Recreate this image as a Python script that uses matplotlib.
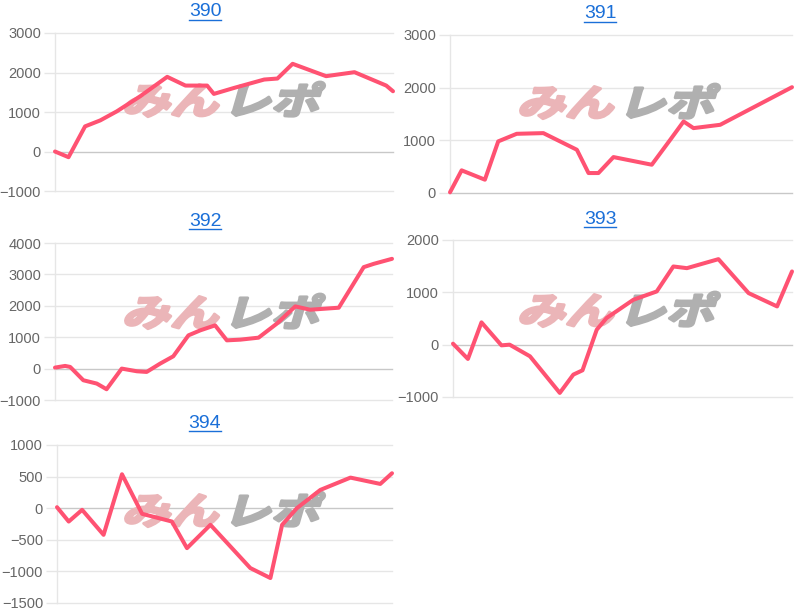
import matplotlib
matplotlib.use("Agg")
from matplotlib import pyplot as plt
from matplotlib.textpath import TextPath
from matplotlib.patches import PathPatch
from matplotlib.font_manager import FontProperties
from matplotlib.transforms import Affine2D
from matplotlib.lines import Line2D

plt.rcParams['font.family'] = ['Liberation Sans', 'DejaVu Sans']

# machine numbers (panel titles)
titles = ["390", "391", "392", "393", "394"]

# x = position along the period in percent, y = balance
x390 = [0, 4.0, 8.9, 13.4, 18.3, 25.2, 33.2, 38.6, 45.0, 47.0, 53.0, 61.9, 65.8, 70.3, 80.2, 88.6, 98.0, 100]
y390 = [0, -144, 636, 788, 1017, 1398, 1890, 1669, 1669, 1458, 1610, 1822, 1847, 2220, 1907, 2008, 1669, 1525]

x391 = [0, 3.4, 10.2, 14.1, 19.5, 27.3, 37.1, 40.5, 43.4, 47.8, 59.0, 64.4, 68.3, 71.2, 79.0, 100]
y391 = [13, 430, 253, 980, 1124, 1137, 821, 379, 379, 682, 537, 1011, 1358, 1232, 1295, 2009]

x392 = [0, 3.0, 4.5, 8.4, 12.4, 15.3, 19.8, 24.3, 27.2, 31.2, 35.1, 39.6, 43.1, 47.5, 51.0, 55.0,
        60.4, 65.8, 71.3, 75.7, 84.2, 91.6, 94.6, 100]
y392 = [32, 85, 53, -371, -477, -657, 0, -85, -106, 159, 392, 1059, 1218, 1377, 900, 922,
        985, 1430, 1981, 1875, 1939, 3231, 3337, 3496]

x393 = [0, 4.4, 8.4, 14.3, 16.7, 22.7, 31.5, 35.5, 38.2, 42.4, 45.3, 53.2, 60.1, 65.0, 69.0, 78.3, 87.2, 95.6, 100]
y393 = [19, -273, 426, -13, 0, -222, -922, -572, -490, 286, 509, 858, 1017, 1494, 1462, 1634, 985, 731, 1399]

x394 = [0, 3.5, 7.5, 13.9, 19.4, 25.4, 34.3, 38.8, 45.8, 57.7, 63.7, 67.2, 71.6, 78.6, 87.6, 96.5, 100]
y394 = [16, -211, -26, -421, 537, -89, -211, -632, -263, -947, -1105, -263, 0, 289, 484, 384, 553]

xs = [x390, x391, x392, x393, x394]
ys = [y390, y391, y392, y393, y394]
ylims = [(-1000, 3000), (0, 3000), (-1000, 4000), (-1000, 2000), (-1500, 1000)]
ysteps = [1000, 1000, 1000, 1000, 500]

W, H = 800, 613
# axes boxes in pixels: left, right, top, bottom ; cell box for title/watermark
boxes = [(55, 393, 33, 191), (450, 792, 35, 193), (55, 392, 243, 400),
         (453, 792, 240, 397), (57, 392, 445, 603)]
cells = [(0, 410, 12, 100), (400, 800, 14, 102), (0, 410, 221, 312),
         (400, 800, 219, 310), (0, 410, 424, 510)]

fig = plt.figure(figsize=(8, 6.13), dpi=100)

line_color = "#ff5272"
grid_color = "#e6e6e6"
zero_color = "#c8c8c8"
link_color = "#1a6fd8"

fp_wm = FontProperties(family="Noto Sans CJK JP", weight="bold")

for i in range(5):
    l, r, t, b = boxes[i]
    ax = fig.add_axes([l / W, 1 - b / H, (r - l) / W, (b - t) / H])
    lo, hi = ylims[i]
    ax.set_xlim(0, 100)
    ax.set_ylim(lo, hi)
    ticks = list(range(lo, hi + 1, ysteps[i]))
    ax.set_yticks(ticks)
    ax.set_xticks([])
    for s in ["top", "right", "bottom"]:
        ax.spines[s].set_visible(False)
    ax.spines["left"].set_color(grid_color)
    ax.spines["left"].set_linewidth(1)
    ax.tick_params(axis="y", length=8, width=1, color=grid_color, pad=2,
                   labelsize=10.5, labelcolor="#666666")
    for tk in ticks:
        ax.axhline(tk, color=zero_color if tk == 0 else grid_color,
                   lw=1, zorder=0, clip_on=False)
    ax.plot(xs[i], ys[i], color=line_color, lw=2.9, solid_joinstyle="round",
            solid_capstyle="round", zorder=3, clip_on=False)

    # title, underlined like a link
    cl, cr, cy, wy = cells[i]
    cx = (cl + cr) / 2
    fig.text(cx / W, 1 - cy / H, titles[i], ha="center", va="center",
             fontsize=14, color=link_color)

    # watermark "みんレポ" with italic slant, drawn in pixel space
    p1 = TextPath((0, 0), "みん", size=46, prop=fp_wm)
    p2 = TextPath((0, 0), "レポ", size=46, prop=fp_wm)
    w1 = p1.get_extents().x1
    w2 = p2.get_extents().x1
    total = w1 + 6 + w2
    sx, sy = 1.05, 0.8
    base = Affine2D().scale(sx, sy).skew_deg(16, 0)
    ox = cx - total * sx / 2 + 14
    oy = H - wy - 46 * sy * 0.38
    pp1 = PathPatch(p1, facecolor="#ebb5b8", edgecolor="#ebb5b8", lw=2.2,
                    joinstyle="round", zorder=1, clip_on=False)
    pp1.set_transform(base + Affine2D().translate(ox, oy))
    pp2 = PathPatch(p2, facecolor="#b0b0b0", edgecolor="#b0b0b0", lw=2.2,
                    joinstyle="round", zorder=1, clip_on=False)
    pp2.set_transform(Affine2D().translate(w1 + 6, 0) + base + Affine2D().translate(ox, oy))
    ax.add_artist(pp1)
    ax.add_artist(pp2)

# underline the titles
fig.canvas.draw()
rend = fig.canvas.get_renderer()
for t in fig.texts[:]:
    bb = t.get_window_extent(rend)
    yline = bb.y0 + 1
    fig.add_artist(Line2D([bb.x0 / W, bb.x1 / W], [yline / H, yline / H],
                          color=link_color, lw=1.0))

fig.savefig("out.png", dpi=100)
